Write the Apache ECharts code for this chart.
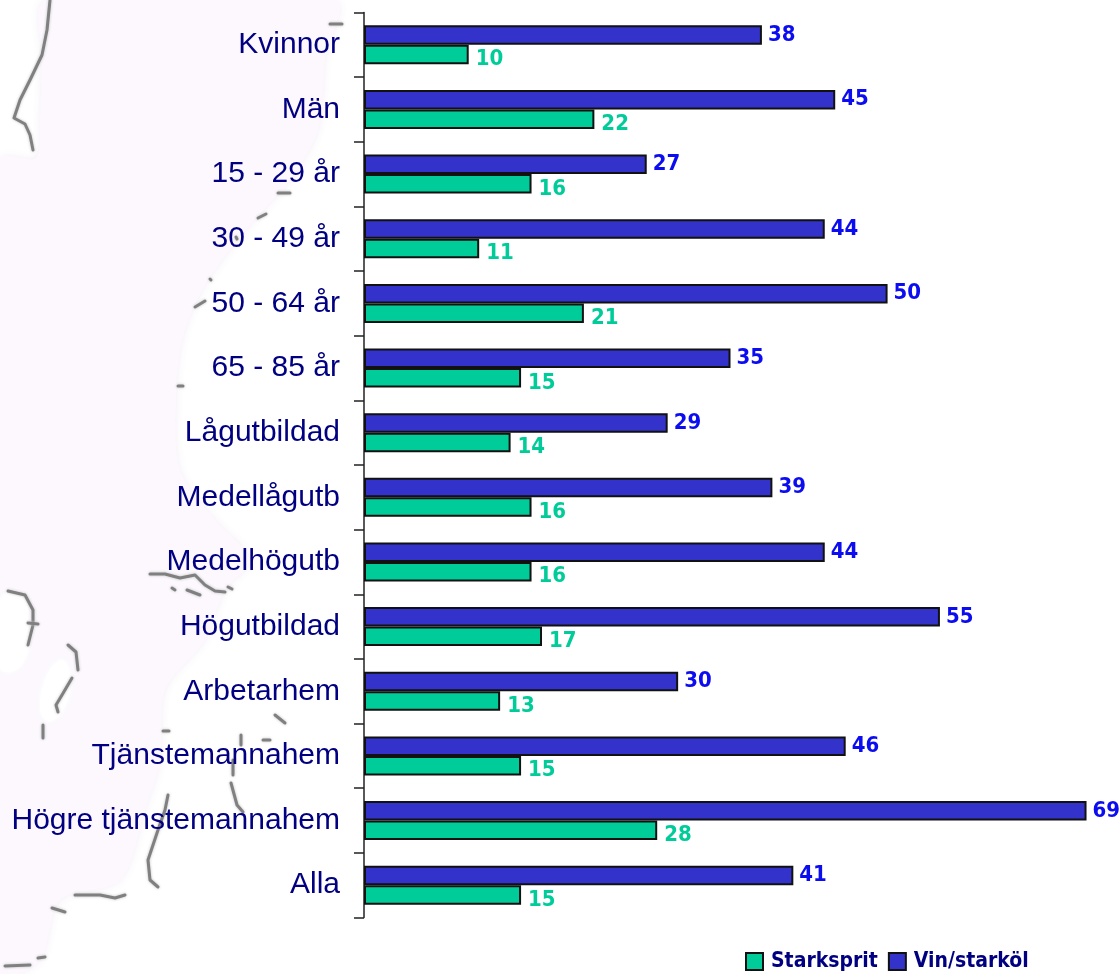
<!DOCTYPE html>
<html>
<head>
<meta charset="utf-8">
<style>
  html, body { margin: 0; padding: 0; background: #fff; }
  #chart { width: 1120px; height: 974px; }
</style>
<script src="https://cdn.jsdelivr.net/npm/echarts@6/dist/echarts.min.js"></script>
</head>
<body>
<div id="chart"></div>
<script>
const categories = ['Kvinnor', 'Män', '15 - 29 år', '30 - 49 år', '50 - 64 år', '65 - 85 år', 'Lågutbildad',
    'Medellågutb', 'Medelhögutb', 'Högutbildad', 'Arbetarhem', 'Tjänstemannahem', 'Högre tjänstemannahem', 'Alla'];
const vinStarkol = [38, 45, 27, 44, 50, 35, 29, 39, 44, 55, 30, 46, 69, 41];
const starksprit = [10, 22, 16, 11, 21, 15, 14, 16, 16, 17, 13, 15, 28, 15];

// pale map behind the chart
const land = [[46, 0], [335, 0], [325, 60], [318, 130], [290, 180], [250, 225], [205, 285], [182, 340], [176, 400],
    [180, 470], [215, 520], [250, 560], [225, 590], [205, 640], [165, 690], [160, 760], [145, 810], [120, 880],
    [60, 900], [40, 960], [0, 974], [0, 160], [36, 158], [40, 120], [42, 60]];
const holes = [
    [[0, 600], [22, 596], [28, 625], [22, 665], [0, 668]],
    [[42, 690], [60, 660], [70, 675], [62, 712], [45, 720]]
];
const coast = [
    [[50, 0], [47, 30], [42, 55], [30, 80], [20, 100], [14, 118], [25, 124], [30, 135], [33, 150]],
    [[330, 24], [342, 24]], [[278, 193], [290, 193]], [[258, 218], [266, 214]], [[236, 237], [237, 239]],
    [[210, 279], [211, 280]], [[195, 307], [205, 301]], [[178, 386], [183, 386]],
    [[150, 574], [165, 574], [180, 578], [195, 575], [205, 585], [215, 591], [225, 592]],
    [[187, 590], [200, 595]], [[228, 587], [232, 589]], [[172, 588], [175, 590]],
    [[8, 591], [25, 595], [33, 610], [33, 625], [28, 645]], [[28, 623], [38, 624]],
    [[68, 645], [76, 652], [78, 670]], [[72, 678], [62, 695], [56, 705], [58, 712]], [[43, 725], [43, 738]],
    [[275, 715], [285, 723]], [[241, 735], [241, 745]], [[263, 740], [270, 740]], [[163, 731], [169, 731]],
    [[233, 760], [233, 775]], [[231, 783], [237, 805], [243, 812]],
    [[168, 795], [165, 810], [158, 830], [148, 860], [150, 880], [158, 887]],
    [[75, 895], [100, 895], [115, 898], [125, 895]], [[52, 908], [65, 912]], [[5, 966], [30, 965]], [[38, 958], [45, 957]]
];

const chart = echarts.init(document.getElementById('chart'));

const narrow = 'DejaVu Sans Condensed';
const valueLabel = (color, distance, dy) => ({
    show: true,
    position: 'right',
    distance: distance,
    offset: [0, dy],
    color: color,
    fontFamily: narrow,
    fontWeight: 'bold',
    fontSize: 22
});

chart.setOption({
    animation: false,
    backgroundColor: '#fff',
    graphic: [
        { type: 'polygon', z: -10, silent: true, shape: { points: land, smooth: 0.3 }, style: { fill: '#fcf8fe', shadowBlur: 10, shadowColor: '#f4eef6' } }
    ].concat(holes.map(points => ({
        type: 'polygon', z: -10, silent: true, shape: { points: points, smooth: 0.5 },
        style: { fill: '#ffffff', shadowBlur: 8, shadowColor: '#ffffff' }
    }))).concat(coast.map(points => ({
        type: 'polyline', z: -9, silent: true, shape: { points: points },
        style: { fill: null, stroke: '#808080', lineWidth: 3, lineCap: 'round', lineJoin: 'round', shadowBlur: 3, shadowColor: '#c0c0c0' }
    }))),
    legend: {
        left: 740,
        top: 946,
        icon: 'rect',
        itemWidth: 17,
        itemHeight: 17,
        itemGap: 10,
        data: ['Starksprit', 'Vin/starköl'],
        textStyle: { color: '#000080', fontFamily: narrow, fontWeight: 'bold', fontSize: 21, padding: [0, 0, 0, 3] }
    },
    grid: { left: 364, top: 12.5, width: 733, height: 905 },
    xAxis: { type: 'value', min: 0, max: 70, show: false },
    yAxis: {
        type: 'category',
        inverse: true,
        data: categories,
        axisLine: { lineStyle: { color: '#222', width: 1.5 } },
        axisTick: { show: true, length: 10, lineStyle: { color: '#222', width: 1.5 } },
        axisLabel: { color: '#000080', fontFamily: 'Liberation Sans', fontSize: 30, margin: 24 }
    },
    series: [
        {
            name: 'Vin/starköl',
            type: 'bar',
            data: vinStarkol,
            barWidth: 19.5,
            barGap: '0%',
            itemStyle: { color: '#3333cc', borderColor: '#111', borderWidth: 2 },
            label: valueLabel('#0c0cf0', 6, 0)
        },
        {
            name: 'Starksprit',
            type: 'bar',
            data: starksprit,
            barWidth: 19.5,
            itemStyle: { color: '#00cc99', borderColor: '#111', borderWidth: 2 },
            label: valueLabel('#00cc99', 7, 5)
        }
    ]
});
window.addEventListener('resize', () => chart.resize());
</script>
</body>
</html>
